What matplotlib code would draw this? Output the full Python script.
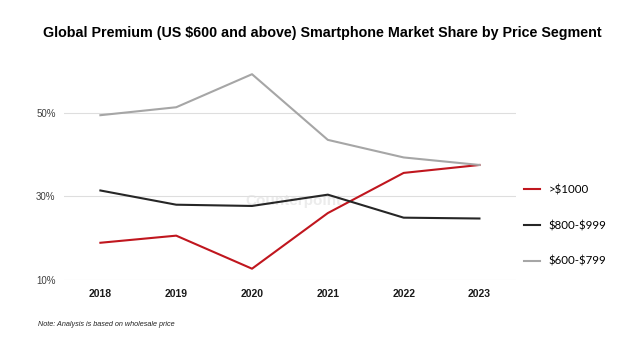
import matplotlib
matplotlib.use("Agg")
import matplotlib.pyplot as plt
from matplotlib.lines import Line2D

years = ["2018", "2019", "2020", "2021", "2022", "2023"]
over_1000 = [18.9, 20.6, 12.7, 26.0, 35.6, 37.5]
s800_999 = [31.4, 28.0, 27.7, 30.4, 24.9, 24.7]
s600_799 = [49.4, 51.3, 59.2, 43.5, 39.3, 37.5]
series_names = [r">\$1000", r"\$800-\$999", r"\$600-\$799"]
y_ticks = [10, 30, 50]
y_tick_labels = ["10%", "30%", "50%"]

plt.rcParams['font.family'] = ['Liberation Sans', 'DejaVu Sans']

fig = plt.figure(figsize=(6.4, 3.55), dpi=100)
ax = fig.add_axes([0.1, 0.2113, 0.706, 0.648])

colors = ["#c0161e", "#262626", "#a6a6a6"]
x = list(range(len(years)))
for vals, c, n in zip([over_1000, s800_999, s600_799], colors, series_names):
    ax.plot(x, vals, color=c, lw=1.5, label=n, zorder=3)

ax.set_xlim(-0.48, 5.48)
ax.set_ylim(10, 65)
ax.set_yticks(y_ticks)
ax.set_yticklabels(y_tick_labels)
ax.set_xticks(x)
ax.set_xticklabels(years, fontweight='bold', fontsize=7.5, color="#1a1a1a")
for lab in ax.get_yticklabels():
    lab.set_fontsize(7)
    lab.set_color("#404040")
ax.grid(axis='y', color="#dedede", lw=0.8)
ax.tick_params(axis='x', length=0, pad=6.5)
ax.tick_params(axis='y', length=0, pad=6)
for s in ax.spines.values():
    s.set_visible(False)

# watermark
ax.text(2.55, 29, "Counterpoint", fontsize=11, color="#ececec", fontweight='bold',
        ha='center', va='center', zorder=1)

fig.text(0.503, 0.908, r"Global Premium (US \$600 and above) Smartphone Market Share by Price Segment",
         ha='center', va='center', fontsize=10.3, fontweight='bold', color="#000000")

handles = [Line2D([], [], color=c, lw=1.5) for c in colors]
leg = fig.legend(handles, series_names, loc='upper left', bbox_to_anchor=(0.803, 0.51),
                 frameon=False, labelspacing=2.15, handlelength=1.35,
                 handletextpad=0.75, prop={'family': ['Lato', 'DejaVu Sans'], 'size': 8.3})

fig.text(0.059, 0.085, "Note: Analysis is based on wholesale price", fontsize=5.2,
         style='italic', color="#222222", ha='left', va='center')

fig.savefig("out.png", dpi=100)
